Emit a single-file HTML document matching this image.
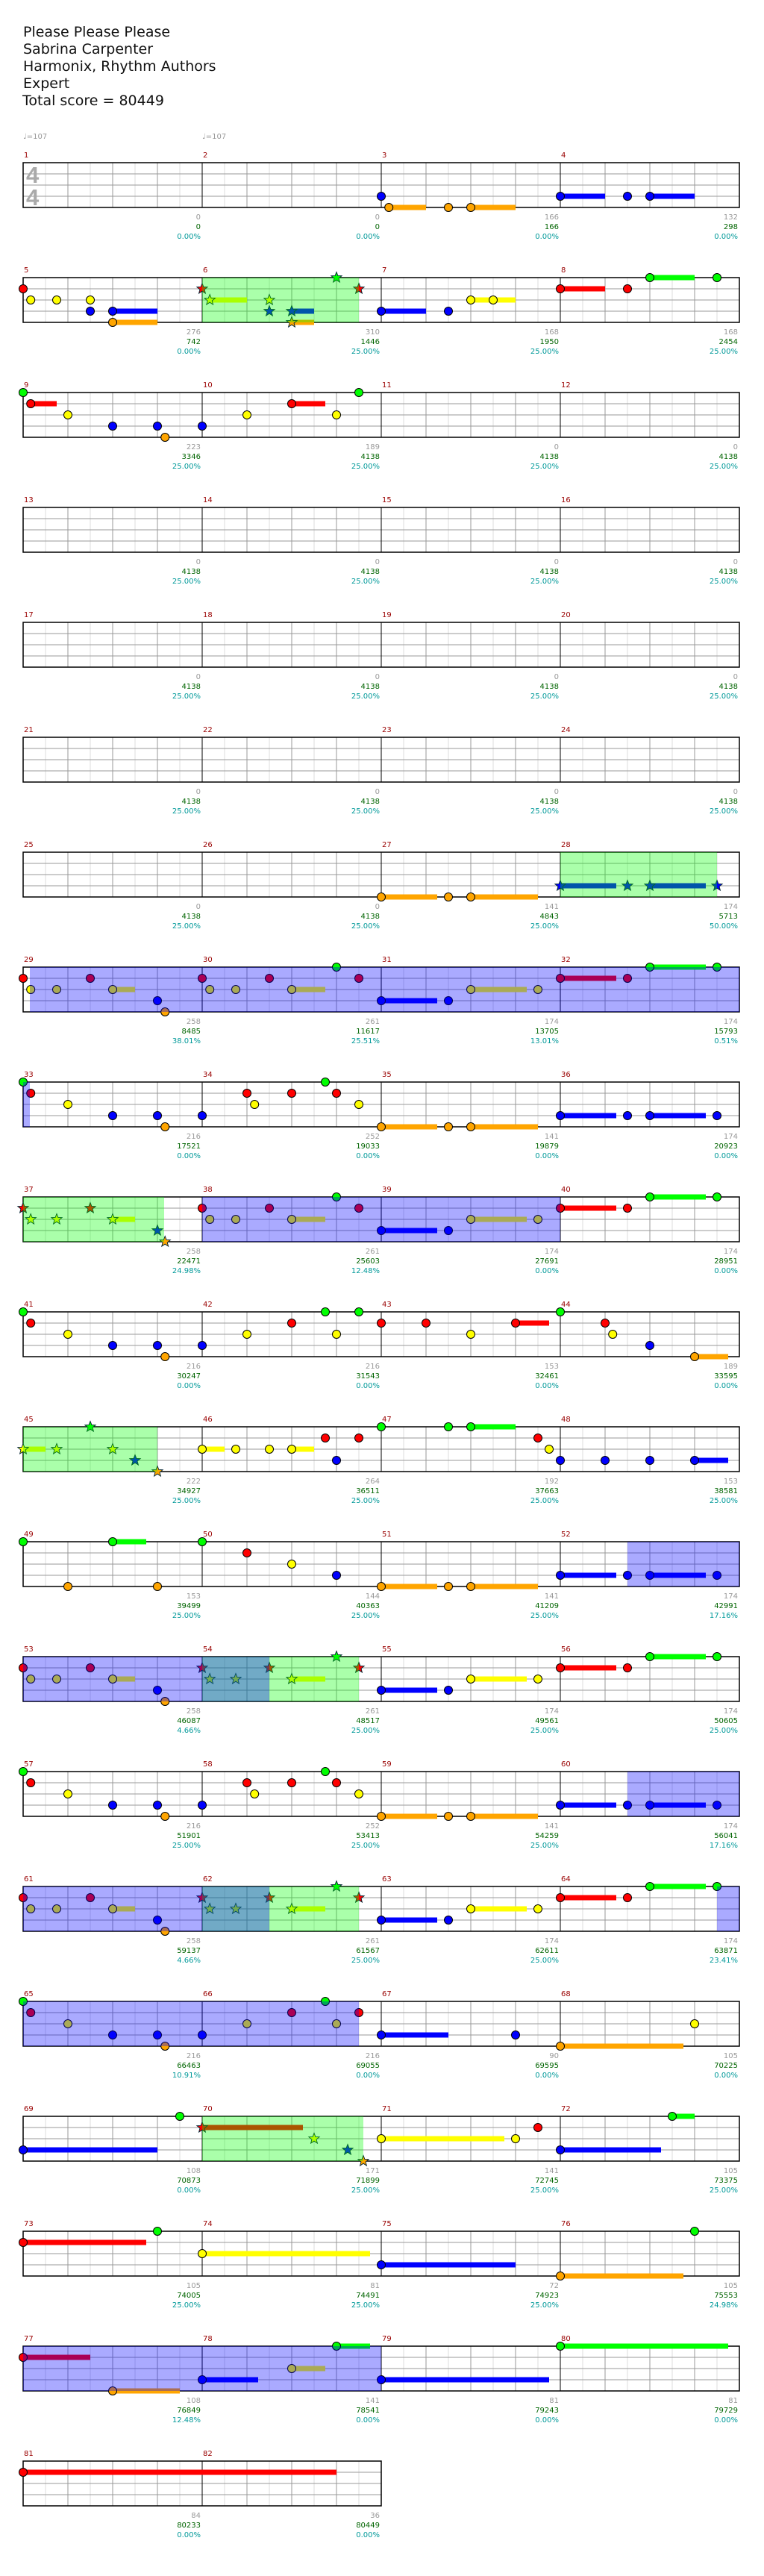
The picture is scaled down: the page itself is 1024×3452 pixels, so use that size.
<!DOCTYPE html>
<html><head><meta charset="utf-8">
<style>
html,body{margin:0;padding:0;background:#fff;}
svg{display:block;}
.t{font-family:"DejaVu Sans","Liberation Sans",sans-serif;font-size:19px;fill:#111;}
.n{font-family:"DejaVu Sans","Liberation Sans",sans-serif;font-size:10px;fill:#990000;}
.a,.b,.c{font-family:"DejaVu Sans","Liberation Sans",sans-serif;font-size:10px;text-anchor:end;}
.a{fill:#999;} .b{fill:#006400;} .c{fill:#009999;}
.tp{font-family:"DejaVu Sans","Liberation Sans",sans-serif;font-size:10px;fill:#999;}
.ts{font-family:"Liberation Sans",sans-serif;font-weight:bold;font-size:31px;fill:#aaa;}
</style></head><body>
<svg id="s" width="1024" height="3452" viewBox="0 0 1024 3452" xmlns="http://www.w3.org/2000/svg">
<rect width="1024" height="3452" fill="#fff"/>
<g id="shapes"></g>
<g id="over"></g>
<text class="t" x="31" y="49">Please Please Please</text>
<text class="t" x="31" y="72">Sabrina Carpenter</text>
<text class="t" x="31" y="95">Harmonix, Rhythm Authors</text>
<text class="t" x="31" y="118">Expert</text>
<text class="t" x="30" y="141">Total score = 80449</text>
<text class="tp" x="31" y="186">♩=107</text>
<text class="tp" x="271" y="186">♩=107</text>
<text class="ts" x="35" y="245">4</text>
<text class="ts" x="35" y="275">4</text>
<g transform="translate(31,218)"><text class="n" x="1" y="-7">1</text><text class="a" x="238" y="76">0</text><text class="b" x="238" y="89">0</text><text class="c" x="238" y="102">0.00%</text></g>
<g transform="translate(271,218)"><text class="n" x="1" y="-7">2</text><text class="a" x="238" y="76">0</text><text class="b" x="238" y="89">0</text><text class="c" x="238" y="102">0.00%</text></g>
<g transform="translate(511,218)"><text class="n" x="1" y="-7">3</text><text class="a" x="238" y="76">166</text><text class="b" x="238" y="89">166</text><text class="c" x="238" y="102">0.00%</text></g>
<g transform="translate(751,218)"><text class="n" x="1" y="-7">4</text><text class="a" x="238" y="76">132</text><text class="b" x="238" y="89">298</text><text class="c" x="238" y="102">0.00%</text></g>
<g transform="translate(31,372)"><text class="n" x="1" y="-7">5</text><text class="a" x="238" y="76">276</text><text class="b" x="238" y="89">742</text><text class="c" x="238" y="102">0.00%</text></g>
<g transform="translate(271,372)"><text class="n" x="1" y="-7">6</text><text class="a" x="238" y="76">310</text><text class="b" x="238" y="89">1446</text><text class="c" x="238" y="102">25.00%</text></g>
<g transform="translate(511,372)"><text class="n" x="1" y="-7">7</text><text class="a" x="238" y="76">168</text><text class="b" x="238" y="89">1950</text><text class="c" x="238" y="102">25.00%</text></g>
<g transform="translate(751,372)"><text class="n" x="1" y="-7">8</text><text class="a" x="238" y="76">168</text><text class="b" x="238" y="89">2454</text><text class="c" x="238" y="102">25.00%</text></g>
<g transform="translate(31,526)"><text class="n" x="1" y="-7">9</text><text class="a" x="238" y="76">223</text><text class="b" x="238" y="89">3346</text><text class="c" x="238" y="102">25.00%</text></g>
<g transform="translate(271,526)"><text class="n" x="1" y="-7">10</text><text class="a" x="238" y="76">189</text><text class="b" x="238" y="89">4138</text><text class="c" x="238" y="102">25.00%</text></g>
<g transform="translate(511,526)"><text class="n" x="1" y="-7">11</text><text class="a" x="238" y="76">0</text><text class="b" x="238" y="89">4138</text><text class="c" x="238" y="102">25.00%</text></g>
<g transform="translate(751,526)"><text class="n" x="1" y="-7">12</text><text class="a" x="238" y="76">0</text><text class="b" x="238" y="89">4138</text><text class="c" x="238" y="102">25.00%</text></g>
<g transform="translate(31,680)"><text class="n" x="1" y="-7">13</text><text class="a" x="238" y="76">0</text><text class="b" x="238" y="89">4138</text><text class="c" x="238" y="102">25.00%</text></g>
<g transform="translate(271,680)"><text class="n" x="1" y="-7">14</text><text class="a" x="238" y="76">0</text><text class="b" x="238" y="89">4138</text><text class="c" x="238" y="102">25.00%</text></g>
<g transform="translate(511,680)"><text class="n" x="1" y="-7">15</text><text class="a" x="238" y="76">0</text><text class="b" x="238" y="89">4138</text><text class="c" x="238" y="102">25.00%</text></g>
<g transform="translate(751,680)"><text class="n" x="1" y="-7">16</text><text class="a" x="238" y="76">0</text><text class="b" x="238" y="89">4138</text><text class="c" x="238" y="102">25.00%</text></g>
<g transform="translate(31,834)"><text class="n" x="1" y="-7">17</text><text class="a" x="238" y="76">0</text><text class="b" x="238" y="89">4138</text><text class="c" x="238" y="102">25.00%</text></g>
<g transform="translate(271,834)"><text class="n" x="1" y="-7">18</text><text class="a" x="238" y="76">0</text><text class="b" x="238" y="89">4138</text><text class="c" x="238" y="102">25.00%</text></g>
<g transform="translate(511,834)"><text class="n" x="1" y="-7">19</text><text class="a" x="238" y="76">0</text><text class="b" x="238" y="89">4138</text><text class="c" x="238" y="102">25.00%</text></g>
<g transform="translate(751,834)"><text class="n" x="1" y="-7">20</text><text class="a" x="238" y="76">0</text><text class="b" x="238" y="89">4138</text><text class="c" x="238" y="102">25.00%</text></g>
<g transform="translate(31,988)"><text class="n" x="1" y="-7">21</text><text class="a" x="238" y="76">0</text><text class="b" x="238" y="89">4138</text><text class="c" x="238" y="102">25.00%</text></g>
<g transform="translate(271,988)"><text class="n" x="1" y="-7">22</text><text class="a" x="238" y="76">0</text><text class="b" x="238" y="89">4138</text><text class="c" x="238" y="102">25.00%</text></g>
<g transform="translate(511,988)"><text class="n" x="1" y="-7">23</text><text class="a" x="238" y="76">0</text><text class="b" x="238" y="89">4138</text><text class="c" x="238" y="102">25.00%</text></g>
<g transform="translate(751,988)"><text class="n" x="1" y="-7">24</text><text class="a" x="238" y="76">0</text><text class="b" x="238" y="89">4138</text><text class="c" x="238" y="102">25.00%</text></g>
<g transform="translate(31,1142)"><text class="n" x="1" y="-7">25</text><text class="a" x="238" y="76">0</text><text class="b" x="238" y="89">4138</text><text class="c" x="238" y="102">25.00%</text></g>
<g transform="translate(271,1142)"><text class="n" x="1" y="-7">26</text><text class="a" x="238" y="76">0</text><text class="b" x="238" y="89">4138</text><text class="c" x="238" y="102">25.00%</text></g>
<g transform="translate(511,1142)"><text class="n" x="1" y="-7">27</text><text class="a" x="238" y="76">141</text><text class="b" x="238" y="89">4843</text><text class="c" x="238" y="102">25.00%</text></g>
<g transform="translate(751,1142)"><text class="n" x="1" y="-7">28</text><text class="a" x="238" y="76">174</text><text class="b" x="238" y="89">5713</text><text class="c" x="238" y="102">50.00%</text></g>
<g transform="translate(31,1296)"><text class="n" x="1" y="-7">29</text><text class="a" x="238" y="76">258</text><text class="b" x="238" y="89">8485</text><text class="c" x="238" y="102">38.01%</text></g>
<g transform="translate(271,1296)"><text class="n" x="1" y="-7">30</text><text class="a" x="238" y="76">261</text><text class="b" x="238" y="89">11617</text><text class="c" x="238" y="102">25.51%</text></g>
<g transform="translate(511,1296)"><text class="n" x="1" y="-7">31</text><text class="a" x="238" y="76">174</text><text class="b" x="238" y="89">13705</text><text class="c" x="238" y="102">13.01%</text></g>
<g transform="translate(751,1296)"><text class="n" x="1" y="-7">32</text><text class="a" x="238" y="76">174</text><text class="b" x="238" y="89">15793</text><text class="c" x="238" y="102">0.51%</text></g>
<g transform="translate(31,1450)"><text class="n" x="1" y="-7">33</text><text class="a" x="238" y="76">216</text><text class="b" x="238" y="89">17521</text><text class="c" x="238" y="102">0.00%</text></g>
<g transform="translate(271,1450)"><text class="n" x="1" y="-7">34</text><text class="a" x="238" y="76">252</text><text class="b" x="238" y="89">19033</text><text class="c" x="238" y="102">0.00%</text></g>
<g transform="translate(511,1450)"><text class="n" x="1" y="-7">35</text><text class="a" x="238" y="76">141</text><text class="b" x="238" y="89">19879</text><text class="c" x="238" y="102">0.00%</text></g>
<g transform="translate(751,1450)"><text class="n" x="1" y="-7">36</text><text class="a" x="238" y="76">174</text><text class="b" x="238" y="89">20923</text><text class="c" x="238" y="102">0.00%</text></g>
<g transform="translate(31,1604)"><text class="n" x="1" y="-7">37</text><text class="a" x="238" y="76">258</text><text class="b" x="238" y="89">22471</text><text class="c" x="238" y="102">24.98%</text></g>
<g transform="translate(271,1604)"><text class="n" x="1" y="-7">38</text><text class="a" x="238" y="76">261</text><text class="b" x="238" y="89">25603</text><text class="c" x="238" y="102">12.48%</text></g>
<g transform="translate(511,1604)"><text class="n" x="1" y="-7">39</text><text class="a" x="238" y="76">174</text><text class="b" x="238" y="89">27691</text><text class="c" x="238" y="102">0.00%</text></g>
<g transform="translate(751,1604)"><text class="n" x="1" y="-7">40</text><text class="a" x="238" y="76">174</text><text class="b" x="238" y="89">28951</text><text class="c" x="238" y="102">0.00%</text></g>
<g transform="translate(31,1758)"><text class="n" x="1" y="-7">41</text><text class="a" x="238" y="76">216</text><text class="b" x="238" y="89">30247</text><text class="c" x="238" y="102">0.00%</text></g>
<g transform="translate(271,1758)"><text class="n" x="1" y="-7">42</text><text class="a" x="238" y="76">216</text><text class="b" x="238" y="89">31543</text><text class="c" x="238" y="102">0.00%</text></g>
<g transform="translate(511,1758)"><text class="n" x="1" y="-7">43</text><text class="a" x="238" y="76">153</text><text class="b" x="238" y="89">32461</text><text class="c" x="238" y="102">0.00%</text></g>
<g transform="translate(751,1758)"><text class="n" x="1" y="-7">44</text><text class="a" x="238" y="76">189</text><text class="b" x="238" y="89">33595</text><text class="c" x="238" y="102">0.00%</text></g>
<g transform="translate(31,1912)"><text class="n" x="1" y="-7">45</text><text class="a" x="238" y="76">222</text><text class="b" x="238" y="89">34927</text><text class="c" x="238" y="102">25.00%</text></g>
<g transform="translate(271,1912)"><text class="n" x="1" y="-7">46</text><text class="a" x="238" y="76">264</text><text class="b" x="238" y="89">36511</text><text class="c" x="238" y="102">25.00%</text></g>
<g transform="translate(511,1912)"><text class="n" x="1" y="-7">47</text><text class="a" x="238" y="76">192</text><text class="b" x="238" y="89">37663</text><text class="c" x="238" y="102">25.00%</text></g>
<g transform="translate(751,1912)"><text class="n" x="1" y="-7">48</text><text class="a" x="238" y="76">153</text><text class="b" x="238" y="89">38581</text><text class="c" x="238" y="102">25.00%</text></g>
<g transform="translate(31,2066)"><text class="n" x="1" y="-7">49</text><text class="a" x="238" y="76">153</text><text class="b" x="238" y="89">39499</text><text class="c" x="238" y="102">25.00%</text></g>
<g transform="translate(271,2066)"><text class="n" x="1" y="-7">50</text><text class="a" x="238" y="76">144</text><text class="b" x="238" y="89">40363</text><text class="c" x="238" y="102">25.00%</text></g>
<g transform="translate(511,2066)"><text class="n" x="1" y="-7">51</text><text class="a" x="238" y="76">141</text><text class="b" x="238" y="89">41209</text><text class="c" x="238" y="102">25.00%</text></g>
<g transform="translate(751,2066)"><text class="n" x="1" y="-7">52</text><text class="a" x="238" y="76">174</text><text class="b" x="238" y="89">42991</text><text class="c" x="238" y="102">17.16%</text></g>
<g transform="translate(31,2220)"><text class="n" x="1" y="-7">53</text><text class="a" x="238" y="76">258</text><text class="b" x="238" y="89">46087</text><text class="c" x="238" y="102">4.66%</text></g>
<g transform="translate(271,2220)"><text class="n" x="1" y="-7">54</text><text class="a" x="238" y="76">261</text><text class="b" x="238" y="89">48517</text><text class="c" x="238" y="102">25.00%</text></g>
<g transform="translate(511,2220)"><text class="n" x="1" y="-7">55</text><text class="a" x="238" y="76">174</text><text class="b" x="238" y="89">49561</text><text class="c" x="238" y="102">25.00%</text></g>
<g transform="translate(751,2220)"><text class="n" x="1" y="-7">56</text><text class="a" x="238" y="76">174</text><text class="b" x="238" y="89">50605</text><text class="c" x="238" y="102">25.00%</text></g>
<g transform="translate(31,2374)"><text class="n" x="1" y="-7">57</text><text class="a" x="238" y="76">216</text><text class="b" x="238" y="89">51901</text><text class="c" x="238" y="102">25.00%</text></g>
<g transform="translate(271,2374)"><text class="n" x="1" y="-7">58</text><text class="a" x="238" y="76">252</text><text class="b" x="238" y="89">53413</text><text class="c" x="238" y="102">25.00%</text></g>
<g transform="translate(511,2374)"><text class="n" x="1" y="-7">59</text><text class="a" x="238" y="76">141</text><text class="b" x="238" y="89">54259</text><text class="c" x="238" y="102">25.00%</text></g>
<g transform="translate(751,2374)"><text class="n" x="1" y="-7">60</text><text class="a" x="238" y="76">174</text><text class="b" x="238" y="89">56041</text><text class="c" x="238" y="102">17.16%</text></g>
<g transform="translate(31,2528)"><text class="n" x="1" y="-7">61</text><text class="a" x="238" y="76">258</text><text class="b" x="238" y="89">59137</text><text class="c" x="238" y="102">4.66%</text></g>
<g transform="translate(271,2528)"><text class="n" x="1" y="-7">62</text><text class="a" x="238" y="76">261</text><text class="b" x="238" y="89">61567</text><text class="c" x="238" y="102">25.00%</text></g>
<g transform="translate(511,2528)"><text class="n" x="1" y="-7">63</text><text class="a" x="238" y="76">174</text><text class="b" x="238" y="89">62611</text><text class="c" x="238" y="102">25.00%</text></g>
<g transform="translate(751,2528)"><text class="n" x="1" y="-7">64</text><text class="a" x="238" y="76">174</text><text class="b" x="238" y="89">63871</text><text class="c" x="238" y="102">23.41%</text></g>
<g transform="translate(31,2682)"><text class="n" x="1" y="-7">65</text><text class="a" x="238" y="76">216</text><text class="b" x="238" y="89">66463</text><text class="c" x="238" y="102">10.91%</text></g>
<g transform="translate(271,2682)"><text class="n" x="1" y="-7">66</text><text class="a" x="238" y="76">216</text><text class="b" x="238" y="89">69055</text><text class="c" x="238" y="102">0.00%</text></g>
<g transform="translate(511,2682)"><text class="n" x="1" y="-7">67</text><text class="a" x="238" y="76">90</text><text class="b" x="238" y="89">69595</text><text class="c" x="238" y="102">0.00%</text></g>
<g transform="translate(751,2682)"><text class="n" x="1" y="-7">68</text><text class="a" x="238" y="76">105</text><text class="b" x="238" y="89">70225</text><text class="c" x="238" y="102">0.00%</text></g>
<g transform="translate(31,2836)"><text class="n" x="1" y="-7">69</text><text class="a" x="238" y="76">108</text><text class="b" x="238" y="89">70873</text><text class="c" x="238" y="102">0.00%</text></g>
<g transform="translate(271,2836)"><text class="n" x="1" y="-7">70</text><text class="a" x="238" y="76">171</text><text class="b" x="238" y="89">71899</text><text class="c" x="238" y="102">25.00%</text></g>
<g transform="translate(511,2836)"><text class="n" x="1" y="-7">71</text><text class="a" x="238" y="76">141</text><text class="b" x="238" y="89">72745</text><text class="c" x="238" y="102">25.00%</text></g>
<g transform="translate(751,2836)"><text class="n" x="1" y="-7">72</text><text class="a" x="238" y="76">105</text><text class="b" x="238" y="89">73375</text><text class="c" x="238" y="102">25.00%</text></g>
<g transform="translate(31,2990)"><text class="n" x="1" y="-7">73</text><text class="a" x="238" y="76">105</text><text class="b" x="238" y="89">74005</text><text class="c" x="238" y="102">25.00%</text></g>
<g transform="translate(271,2990)"><text class="n" x="1" y="-7">74</text><text class="a" x="238" y="76">81</text><text class="b" x="238" y="89">74491</text><text class="c" x="238" y="102">25.00%</text></g>
<g transform="translate(511,2990)"><text class="n" x="1" y="-7">75</text><text class="a" x="238" y="76">72</text><text class="b" x="238" y="89">74923</text><text class="c" x="238" y="102">25.00%</text></g>
<g transform="translate(751,2990)"><text class="n" x="1" y="-7">76</text><text class="a" x="238" y="76">105</text><text class="b" x="238" y="89">75553</text><text class="c" x="238" y="102">24.98%</text></g>
<g transform="translate(31,3144)"><text class="n" x="1" y="-7">77</text><text class="a" x="238" y="76">108</text><text class="b" x="238" y="89">76849</text><text class="c" x="238" y="102">12.48%</text></g>
<g transform="translate(271,3144)"><text class="n" x="1" y="-7">78</text><text class="a" x="238" y="76">141</text><text class="b" x="238" y="89">78541</text><text class="c" x="238" y="102">0.00%</text></g>
<g transform="translate(511,3144)"><text class="n" x="1" y="-7">79</text><text class="a" x="238" y="76">81</text><text class="b" x="238" y="89">79243</text><text class="c" x="238" y="102">0.00%</text></g>
<g transform="translate(751,3144)"><text class="n" x="1" y="-7">80</text><text class="a" x="238" y="76">81</text><text class="b" x="238" y="89">79729</text><text class="c" x="238" y="102">0.00%</text></g>
<g transform="translate(31,3298)"><text class="n" x="1" y="-7">81</text><text class="a" x="238" y="76">84</text><text class="b" x="238" y="89">80233</text><text class="c" x="238" y="102">0.00%</text></g>
<g transform="translate(271,3298)"><text class="n" x="1" y="-7">82</text><text class="a" x="238" y="76">36</text><text class="b" x="238" y="89">80449</text><text class="c" x="238" y="102">0.00%</text></g>
</svg>
<script>
(function(){
var NS='http://www.w3.org/2000/svg';
var shapes=document.getElementById('shapes'), over=document.getElementById('over');
function el(p,t,a){var e=document.createElementNS(NS,t);for(var k in a)e.setAttribute(k,a[k]);p.appendChild(e);return e;}
function top(r){return 218+154*r;}
for(var r=0;r<21;r++){
  var nm=(r==20)?2:4, T=top(r), W=nm*240;
  for(var i=1;i<nm*8;i++){ if(i%2==1) el(shapes,'line',{x1:31+30*i,y1:T,x2:31+30*i,y2:T+60,stroke:'#dddddd','stroke-width':1}); }
  for(var j=1;j<4;j++) el(shapes,'line',{x1:31,y1:T+15*j,x2:31+W,y2:T+15*j,stroke:'#999','stroke-width':1});
  for(var i=1;i<nm*8;i++){ if(i%2==0&&i%8!=0) el(shapes,'line',{x1:31+30*i,y1:T,x2:31+30*i,y2:T+60,stroke:'#999','stroke-width':1}); }
  for(var i=8;i<nm*8;i+=8) el(shapes,'line',{x1:31+30*i,y1:T,x2:31+30*i,y2:T+60,stroke:'#000','stroke-width':1});
  el(shapes,'rect',{x:31,y:T,width:W,height:60,fill:'none',stroke:'#000','stroke-width':1.5});
}
var COL=['#00ff00','#ff0000','#ffff00','#0000ff','#ffa500'];
var L=[];
function add(m,arr,st){arr.forEach(function(a){L.push([m,a[0],a[1],a[2]||0,st?1:0]);});}
var A=[[0,1],[0.17,2],[0.75,2],[1.5,1],[2,2,2.5],[3,3],[3.17,4]];
var B=[[0,1],[0.17,2],[0.75,2],[1.5,1],[2,2,2.75],[3,0],[3.5,1]];
var C=[[0,3,1.25],[1.5,3],[2,2,3.25],[3.5,2]];
var D=[[0,1,1.25],[1.5,1],[2,0,3.25],[3.5,0]];
var E=[[0,0],[0.17,1],[1,2],[2,3],[3,3],[3.17,4]];
var O=[[0,4,1.25],[1.5,4],[2,4,3.5]];
var BL=[[0,3,1.25],[1.5,3],[2,3,3.25],[3.5,3]];
var F=[[0,3],[1,1],[1.17,2],[2,1],[2.75,0],[3,1],[3.5,2]];
add(3,[[0,3],[0.17,4,1],[1.5,4],[2,4,3]]);
add(4,[[0,3,1],[1.5,3],[2,3,3]]);
add(5,[[0,1],[0.17,2],[0.75,2],[1.5,2],[1.5,3],[2,3,3],[2,4,3]]);
add(6,[[0,1],[0.17,2,1],[1.5,2],[1.5,3],[2,3,2.5],[2,4,2.5],[3,0],[3.5,1]],1);
add(7,[[0,3,1],[1.5,3],[2,2,3],[2.5,2]]);
add(8,[[0,1,1],[1.5,1],[2,0,3],[3.5,0]]);
add(9,[[0,0],[0.17,1,0.75],[1,2],[2,3],[3,3],[3.17,4]]);
add(10,[[0,3],[1,2],[2,1,2.75],[3,2],[3.5,0]]);
add(27,O);
add(28,[[0,3,1.25],[1.5,3],[2,3,3.25],[3.5,3]],1);
add(29,A);add(30,B);add(31,C);add(32,D);
add(33,E);add(34,F);add(35,O);add(36,BL);
add(37,A,1);add(38,B);add(39,C);add(40,D);
add(41,E);add(42,[[0,3],[1,2],[2,1],[2.75,0],[3,2],[3.5,0]]);
add(43,[[0,1],[1,1],[2,2],[3,1,3.75]]);
add(44,[[0,0],[1,1],[1.17,2],[2,3],[3,4,3.75]]);
add(45,[[0,2,0.5],[0.75,2],[1.5,0],[2,2],[2.5,3],[3,4]],1);
add(46,[[0,2,0.5],[0.75,2],[1.5,2],[2,2,2.5],[2.75,1],[3,3],[3.5,1]]);
add(47,[[0,0],[1.5,0],[2,0,3],[3.5,1],[3.75,2]]);
add(48,[[0,3],[1,3],[2,3],[3,3,3.75]]);
add(49,[[0,0],[1,4],[2,0,2.75],[3,4]]);
add(50,[[0,0],[1,1],[2,2],[3,3]]);
add(51,O);add(52,BL);
add(53,A);add(54,B,1);add(55,C);add(56,D);
add(57,E);add(58,F);add(59,O);add(60,BL);
add(61,A);add(62,B,1);add(63,C);add(64,D);
add(65,E);add(66,[[0,3],[1,2],[2,1],[2.75,0],[3,2],[3.5,1]]);
add(67,[[0,3,1.5],[3,3]]);
add(68,[[0,4,2.75],[3,2]]);
add(69,[[0,3,3],[3.5,0]]);
add(70,[[0,1,2.25],[2.5,2],[3.25,3],[3.6,4]],1);
add(71,[[0,2,2.75],[3,2],[3.5,1]]);
add(72,[[0,3,2.25],[2.5,0,3]]);
add(73,[[0,1,2.75],[3,0]]);
add(74,[[0,2,3.75]]);
add(75,[[0,3,3]]);
add(76,[[0,4,2.75],[3,0]]);
add(77,[[0,1,1.5],[2,4,3.5]]);
add(78,[[0,3,1.25],[2,2,2.75],[3,0,3.75]]);
add(79,[[0,3,3.75]]);
add(80,[[0,0,3.75]]);
add(81,[[0,1,7]]);
function pos(m,b){var Bt=(m-1)*4+b;var r=Math.floor(Bt/16+1e-9);return {r:r,x:31+(Bt-r*16)*60,B:Bt};}
L.forEach(function(n){ if(n[3]>0){var p=pos(n[0],n[1]);var xe=31+((n[0]-1)*4+n[3]-p.r*16)*60;var y=top(p.r)+15*n[2];
  el(shapes,'rect',{x:p.x,y:y-3.5,width:xe-p.x,height:7,fill:COL[n[2]]});}});
function star(cx,cy,R,r){var s=[];for(var i=0;i<10;i++){var a=-Math.PI/2+i*Math.PI/5;var rr=i%2?r:R;s.push((cx+rr*Math.cos(a)).toFixed(2)+','+(cy+rr*Math.sin(a)).toFixed(2));}return s.join(' ');}
L.forEach(function(n){var p=pos(n[0],n[1]);var y=top(p.r)+15*n[2];
  if(n[4]) el(shapes,'polygon',{points:star(p.x,y,7.5,3.2),fill:COL[n[2]],stroke:'#023',"stroke-width":0.9});
  else el(shapes,'circle',{cx:p.x,cy:y,r:5.5,fill:COL[n[2]],stroke:'#000','stroke-width':1});});
var OV=[[6,0,6,3.5,'g'],[28,0,28,3.5,'g'],[37,0,37,3.15,'g'],[45,0,45,3,'g'],[54,0,54,3.5,'g'],[62,0,62,3.5,'g'],[70,0,70,3.6,'g'],
[29,0.15,33,0.15,'b'],[38,0,40,0,'b'],[52,1.5,54,1.5,'b'],[60,1.5,62,1.5,'b'],[64,3.5,66,3.5,'b'],[77,0,79,0,'b']];
OV.forEach(function(o){var b1=(o[0]-1)*4+o[1],b2=(o[2]-1)*4+o[3];
  var col=o[4]=='b'?'rgba(0,0,255,0.333)':'rgba(0,255,0,0.333)';
  for(var r=Math.floor(b1/16);r<=Math.floor((b2-1e-6)/16);r++){var s=Math.max(b1,r*16),e=Math.min(b2,(r+1)*16);
    el(over,'rect',{x:31+(s-r*16)*60,y:top(r),width:(e-s)*60,height:60,fill:col});}});
})();
</script>
</body></html>
